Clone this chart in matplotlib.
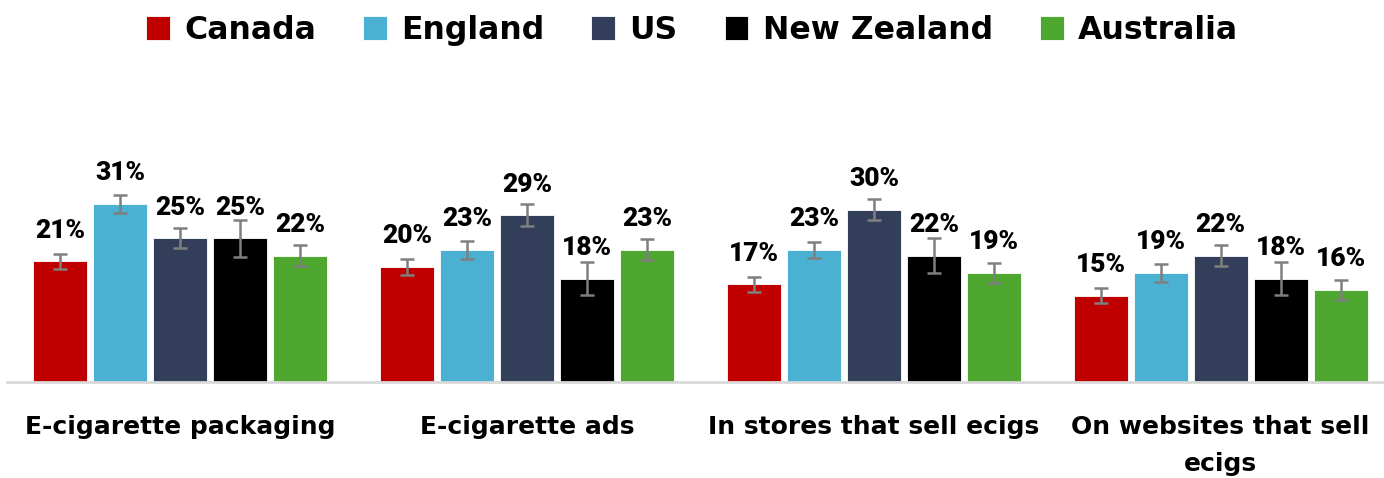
import numpy as np
import matplotlib
import matplotlib.pyplot as plt

matplotlib.use('Agg')

# Categories along the x axis
categories = ["E-cigarette packaging", "E-cigarette ads",
              "In stores that sell ecigs", "On websites that sell\necigs"]
# Countries (one bar per country in each category)
countries = ["Canada", "England", "US", "New Zealand", "Australia"]
colors = ["#c00000", "#4bb1d3", "#333f5a", "#000000", "#4ea72e"]

# Percent values, one list per country, in category order
canada = [21, 20, 17, 15]
england = [31, 23, 23, 19]
us = [25, 29, 30, 22]
new_zealand = [25, 18, 22, 18]
australia = [22, 23, 19, 16]

# Half-widths of the error bars (percentage points)
canada_err = [1.3, 1.4, 1.3, 1.3]
england_err = [1.6, 1.6, 1.4, 1.6]
us_err = [1.75, 1.9, 1.9, 1.8]
new_zealand_err = [3.2, 2.8, 3.0, 2.9]
australia_err = [1.75, 1.8, 1.75, 1.7]

values = [canada, england, us, new_zealand, australia]
errors = [canada_err, england_err, us_err, new_zealand_err, australia_err]

LABEL_FONT = ["Roboto", "DejaVu Sans"]
TEXT_FONT = "DejaVu Sans"
W, H = 1384, 478

fig = plt.figure(figsize=(W / 100, H / 100), dpi=100)
# axes placed in pixel terms: baseline at y=382, 5.75 px per percent
ax = fig.add_axes([7 / W, (H - 382) / H, 1387 / W, 230 / H])

x = np.arange(len(categories))
step = 0.173
width = 0.156
for i, (country, vals, errs, col) in enumerate(zip(countries, values, errors, colors)):
    pos = x + (i - 2) * step
    ax.bar(pos, vals, width, color=col, edgecolor="white", linewidth=0.6,
           label=country, zorder=2)
    ax.errorbar(pos, vals, yerr=errs, fmt="none", ecolor="#7f7f7f",
                elinewidth=1.8, capsize=5, capthick=1.8, zorder=3)
    for p, v in zip(pos, vals):
        ax.annotate(f"{v}%", (p, v), xytext=(0, 22), textcoords="offset points",
                    ha="center", va="center", fontsize=19, fontweight="heavy",
                    family=LABEL_FONT, color="black")

ax.set_xlim(-0.5, 3.5)
ax.set_ylim(0, 40)
ax.set_yticks([])
ax.set_xticks(x)
ax.set_xticklabels(categories, fontsize=18, fontweight="bold", family=TEXT_FONT,
                   linespacing=1.65)
ax.tick_params(axis="x", length=0, pad=24)
for s in ["top", "right", "left"]:
    ax.spines[s].set_visible(False)
ax.spines["bottom"].set_color("#d9d9d9")
ax.spines["bottom"].set_linewidth(2)

leg = fig.legend(loc="upper center", bbox_to_anchor=(0.5, 1.028), ncol=5,
                 frameon=False, handlelength=0.75, handleheight=0.75,
                 handletextpad=0.45, columnspacing=1.5,
                 prop={"family": TEXT_FONT, "weight": "bold", "size": 22.7})

fig.savefig("out.png", dpi=100)
